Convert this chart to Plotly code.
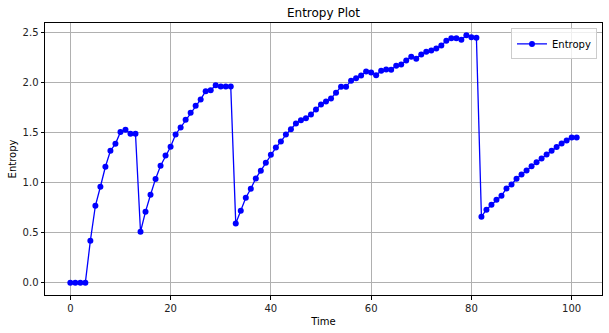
import plotly.graph_objects as go

time = list(range(102))
entropy = [
    0.0, 0.0, 0.0, 0.0, 0.419, 0.767, 0.957, 1.156, 1.316, 1.385,
    1.502, 1.525, 1.485, 1.485, 0.508, 0.708, 0.877, 1.035, 1.167, 1.268,
    1.356, 1.478, 1.547, 1.626, 1.696, 1.766, 1.828, 1.91, 1.92, 1.97,
    1.957, 1.957, 1.957, 0.59, 0.717, 0.847, 0.937, 1.04, 1.117, 1.197,
    1.277, 1.347, 1.407, 1.477, 1.53, 1.587, 1.62, 1.64, 1.677, 1.727,
    1.777, 1.807, 1.837, 1.895, 1.955, 1.955, 2.015, 2.04, 2.067, 2.107,
    2.097, 2.07, 2.113, 2.127, 2.123, 2.163, 2.177, 2.217, 2.253, 2.233,
    2.277, 2.303, 2.317, 2.337, 2.367, 2.413, 2.437, 2.437, 2.423, 2.467,
    2.447, 2.443, 0.658, 0.728, 0.777, 0.827, 0.867, 0.94, 0.98, 1.037,
    1.08, 1.12, 1.16, 1.2, 1.239, 1.279, 1.316, 1.352, 1.389, 1.419,
    1.449, 1.449,
]
x_ticks = [0, 20, 40, 60, 80, 100]
y_ticks = [0.0, 0.5, 1.0, 1.5, 2.0, 2.5]

font = "DejaVu Sans"
fig = go.Figure()
fig.add_trace(go.Scatter(
    x=time, y=entropy, mode="lines+markers", name="Entropy",
    line=dict(color="#0000ff", width=1.3),
    marker=dict(color="#0000ff", size=6),
    showlegend=True,
))

xmin, xmax = min(time), max(time)
ymin, ymax = min(entropy), max(entropy)
xpad = (xmax - xmin) * 0.05
ypad = (ymax - ymin) * 0.05

axis_common = dict(
    showgrid=True, gridcolor="#b0b0b0", gridwidth=0.8,
    showline=True, linecolor="#000000", linewidth=1, mirror=True,
    ticks="outside", ticklen=3.5, tickwidth=0.8, tickcolor="#000000",
    tickfont=dict(family=font, size=10, color="#222222"),
    zeroline=False,
)

fig.update_layout(
    width=609, height=333,
    margin=dict(l=45, r=7, t=23, b=38),
    paper_bgcolor="white", plot_bgcolor="white",
    title=dict(text="Entropy Plot", x=(45 + 602) / 2 / 609, xanchor="center",
               y=1 - 13 / 333, yanchor="middle",
               font=dict(family=font, size=12, color="#000000")),
    xaxis=dict(axis_common, range=[xmin - xpad, xmax + xpad], tickvals=x_ticks,
               title=dict(text="Time", font=dict(family=font, size=10, color="#000000"), standoff=5)),
    yaxis=dict(axis_common, range=[ymin - ypad, ymax + ypad], tickvals=y_ticks,
               tickformat=".1f",
               title=dict(text="Entropy", font=dict(family=font, size=10, color="#000000"), standoff=4)),
    legend=dict(x=0.991, y=0.98, xanchor="right", yanchor="top",
                bgcolor="rgba(255,255,255,0.8)", bordercolor="#cccccc", borderwidth=1,
                font=dict(family=font, size=10, color="#000000"),
                itemwidth=30),
)

fig.write_html("out.html")
